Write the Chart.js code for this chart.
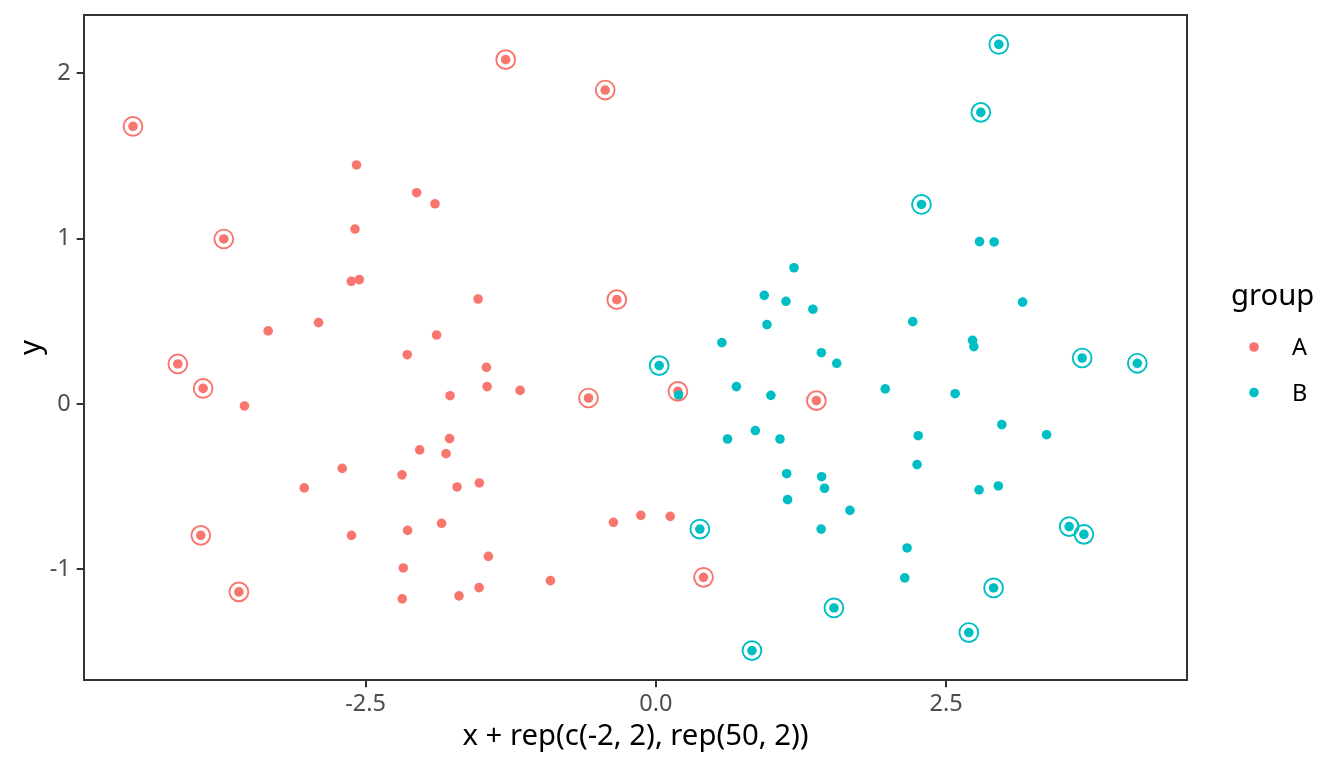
<!DOCTYPE html>
<html>
<head>
<meta charset="utf-8">
<script src="https://cdn.jsdelivr.net/npm/chart.js@4"></script>
<style>
  html, body { margin: 0; padding: 0; background: #fff; }
  #wrap { width: 1344px; height: 768px; }
</style>
</head>
<body>
<div id="wrap"><canvas id="scatter" width="1344" height="768"></canvas></div>
<script>
// values
const groupNames = ["A", "B"];
const groupColors = ["#F8766D", "#00BFC4"];

const aX = [-4.503, -2.578, -2.060, -1.902, -2.591, -3.721, -2.623, -2.554, -3.339, -2.905,
            -1.888, -4.117, -3.899, -3.543, -2.141, -1.772, -1.776, -2.034, -1.807, -2.701,
            -2.186, -3.028, -1.712, -3.919, -2.621, -2.138, -1.845, -2.175, -3.591, -2.184,
            -1.459, -1.453, -1.169, -0.580, 0.190, 1.383, -1.520, -0.365, -0.129, 0.124,
            -1.442, -0.908, -1.522, -1.695, 0.411, -1.293, -0.436, -1.531, -0.336];
const aY = [1.679, 1.446, 1.278, 1.211, 1.058, 0.998, 0.742, 0.752, 0.442, 0.492,
            0.417, 0.242, 0.094, -0.012, 0.298, 0.050, -0.210, -0.278, -0.301, -0.390,
            -0.429, -0.508, -0.502, -0.795, -0.795, -0.765, -0.722, -0.992, -1.137, -1.179,
            0.221, 0.105, 0.082, 0.036, 0.076, 0.020, -0.478, -0.716, -0.674, -0.680,
            -0.922, -1.069, -1.111, -1.161, -1.049, 2.083, 1.899, 0.635, 0.631];
// 1 = point is highlighted with an open ring
const aRing = [1, 0, 0, 0, 0, 1, 0, 0, 0, 0,
               0, 1, 1, 0, 0, 0, 0, 0, 0, 0,
               0, 0, 0, 1, 0, 0, 0, 0, 1, 0,
               0, 0, 0, 1, 1, 1, 0, 0, 0, 0,
               0, 0, 0, 0, 1, 1, 1, 0, 1];

const bX = [2.954, 2.799, 2.288, 2.788, 2.914, 1.190, 0.934, 1.121, 1.353, 0.957,
            0.569, 2.213, 2.728, 2.739, 3.159, 0.029, 1.426, 1.558, 0.196, 0.694,
            0.991, 1.976, 2.578, 2.980, 2.260, 2.250, 0.618, 0.857, 1.069, 1.127,
            1.428, 1.453, 1.135, 1.672, 2.784, 2.950, 1.424, 0.379, 2.164, 3.672,
            4.147, 3.366, 3.560, 3.687, 2.144, 2.909, 1.534, 2.696, 0.828];
const bY = [2.175, 1.764, 1.207, 0.982, 0.980, 0.824, 0.657, 0.621, 0.573, 0.480,
            0.371, 0.498, 0.385, 0.347, 0.616, 0.232, 0.310, 0.246, 0.054, 0.105,
            0.052, 0.091, 0.062, -0.125, -0.192, -0.367, -0.212, -0.161, -0.212, -0.422,
            -0.440, -0.510, -0.579, -0.644, -0.520, -0.496, -0.757, -0.757, -0.871, 0.278,
            0.246, -0.186, -0.742, -0.789, -1.052, -1.113, -1.234, -1.383, -1.492];
const bRing = [1, 1, 1, 0, 0, 0, 0, 0, 0, 0,
               0, 0, 0, 0, 0, 1, 0, 0, 0, 0,
               0, 0, 0, 0, 0, 0, 0, 0, 0, 0,
               0, 0, 0, 0, 0, 0, 0, 1, 0, 1,
               1, 0, 1, 1, 0, 1, 1, 1, 1];

const xTicks = [-2.5, 0, 2.5];
const yTicks = [-1, 0, 1, 2];
const xTitle = "x + rep(c(-2, 2), rep(50, 2))";
const yTitle = "y";
const legendTitle = "group";

const FONT = '"Noto Sans", "Open Sans", sans-serif';

function toPoints(xs, ys) {
  return xs.map((x, i) => ({ x: x, y: ys[i] }));
}
function ringPoints(xs, ys, flags) {
  return toPoints(xs, ys).filter((p, i) => flags[i] === 1);
}

// panel border + ggplot style legend on the right
const panelAndLegend = {
  id: "panelAndLegend",
  afterDraw(chart) {
    const { ctx, chartArea } = chart;
    ctx.save();
    ctx.strokeStyle = "#333333";
    ctx.lineWidth = 2;
    ctx.strokeRect(chartArea.left, chartArea.top,
                   chartArea.right - chartArea.left, chartArea.bottom - chartArea.top);

    const lx = chartArea.right + 44;
    ctx.fillStyle = "#000000";
    ctx.textBaseline = "alphabetic";
    ctx.font = "29.3px " + FONT;
    ctx.fillText(legendTitle, lx, 305);
    ctx.font = "23.5px " + FONT;
    groupNames.forEach((name, i) => {
      const cy = 347 + i * 45.5;
      ctx.beginPath();
      ctx.arc(lx + 23, cy, 4.8, 0, Math.PI * 2);
      ctx.fillStyle = groupColors[i];
      ctx.fill();
      ctx.fillStyle = "#000000";
      ctx.fillText(name, lx + 61, cy + 8.4);
    });
    ctx.restore();
  }
};

function ringSet(label, data, color) {
  return {
    label: label,
    data: data,
    pointRadius: 9.4,
    pointHoverRadius: 9.4,
    pointBorderWidth: 1.9,
    pointBorderColor: color,
    pointBackgroundColor: "rgba(0,0,0,0)"
  };
}
function dotSet(label, data, color) {
  return {
    label: label,
    data: data,
    pointRadius: 4.8,
    pointHoverRadius: 4.8,
    pointBorderWidth: 0,
    pointBackgroundColor: color
  };
}

// keep the panel exactly where the layout puts it (no label overflow padding)
function noPad(s) {
  s.paddingTop = 0;
  s.paddingBottom = 0;
  s.paddingLeft = 0;
  s.paddingRight = 0;
}

const ctx = document.getElementById("scatter").getContext("2d");

new Chart(ctx, {
  type: "scatter",
  data: {
    // first dataset is drawn last (on top)
    datasets: [
      ringSet("B ring", ringPoints(bX, bY, bRing), groupColors[1]),
      ringSet("A ring", ringPoints(aX, aY, aRing), groupColors[0]),
      dotSet("B", toPoints(bX, bY), groupColors[1]),
      dotSet("A", toPoints(aX, aY), groupColors[0])
    ]
  },
  options: {
    responsive: false,
    animation: false,
    devicePixelRatio: 1,
    layout: { padding: { top: 15, right: 157, left: 0, bottom: 0 } },
    plugins: {
      legend: { display: false },
      tooltip: { enabled: false }
    },
    scales: {
      x: {
        type: "linear",
        min: -4.925,
        max: 4.575,
        afterBuildTicks: s => { s.ticks = xTicks.map(v => ({ value: v })); },
        afterFit: s => { s.height = 88; noPad(s); },
        ticks: {
          callback: v => v.toFixed(1),
          color: "#4D4D4D",
          font: { family: FONT, size: 23.5 },
          padding: 3,
          maxRotation: 0,
          autoSkip: false
        },
        grid: { drawOnChartArea: false, tickLength: 7.3, color: "#333333", lineWidth: 2 },
        border: { display: false },
        title: {
          display: true,
          text: xTitle,
          color: "#000000",
          font: { family: FONT, size: 29.3 },
          padding: { top: 14, bottom: 14 }
        }
      },
      y: {
        type: "linear",
        min: -1.67,
        max: 2.353,
        afterBuildTicks: s => { s.ticks = yTicks.map(v => ({ value: v })); },
        afterFit: s => { s.width = 84; noPad(s); },
        ticks: {
          callback: v => String(v),
          color: "#4D4D4D",
          font: { family: FONT, size: 23.5 },
          padding: 6,
          autoSkip: false
        },
        grid: { drawOnChartArea: false, tickLength: 7.3, color: "#333333", lineWidth: 2 },
        border: { display: false },
        title: {
          display: true,
          text: yTitle,
          color: "#000000",
          font: { family: FONT, size: 29.3 },
          padding: { top: 14, bottom: 14 }
        }
      }
    }
  },
  plugins: [panelAndLegend]
});
</script>
</body>
</html>
